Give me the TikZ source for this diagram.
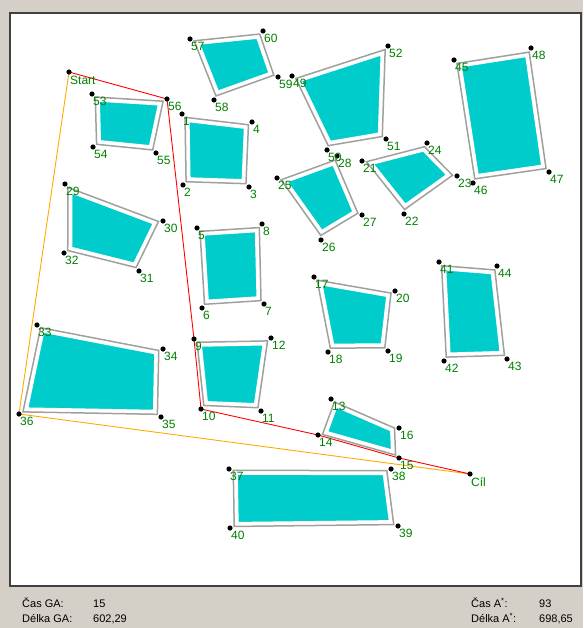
\documentclass[tikz,border=0pt]{standalone}
\usepackage{fontspec}
\setmainfont{Liberation Sans}
\usetikzlibrary{calc}
\definecolor{winbg}{RGB}{212,208,200}
\definecolor{obcyan}{RGB}{0,204,204}
\definecolor{obgray}{RGB}{160,160,160}
\definecolor{lblgreen}{RGB}{0,128,0}
\definecolor{pathorange}{RGB}{255,170,0}
\tikzset{
  lbl/.style={text=lblgreen, inner sep=0pt, anchor=north west, font=\fontsize{12}{12}\selectfont},
  info/.style={inner sep=0pt, anchor=base west, font=\fontsize{11}{12}\selectfont},
  dot/.style={fill=black},
  route/.style={red, line width=0.9pt},
  ga/.style={pathorange, line width=0.9pt}
}
% one obstacle: gray outline a bit inside the corner points, white gap, cyan core
\newcommand\obstacle[4]{%
  \path ($(#1)!0.5!(#3)$) coordinate (oc)
        ($(#1)!4.5pt!(oc)$) coordinate (o1)
        ($(#2)!4.5pt!(oc)$) coordinate (o2)
        ($(#3)!4.5pt!(oc)$) coordinate (o3)
        ($(#4)!4.5pt!(oc)$) coordinate (o4);
  \begin{scope}
    \clip (o1) -- (o2) -- (o3) -- (o4) -- cycle;
    \fill[obcyan] (o1) -- (o2) -- (o3) -- (o4) -- cycle;
    \draw[white, line width=9pt] (o1) -- (o2) -- (o3) -- (o4) -- cycle;
  \end{scope}
  \draw[obgray, line width=1.5pt] (o1) -- (o2) -- (o3) -- (o4) -- cycle;}
\begin{document}
\begin{tikzpicture}[x=1pt, y=-1pt]
  \fill[winbg] (0,0) rectangle (583,628);
  \useasboundingbox (0,0) rectangle (583,628);
  \draw[fill=white, draw=black!75, line width=1.5pt] (10,13) rectangle (581,586);

  \foreach \n/\x/\y in {1/182/114, 2/183/185, 3/249/187, 4/252/122,
      5/197/228, 6/202/308, 7/264/304, 8/262/224,
      9/194/339, 10/201/409, 11/261/411, 12/271/338,
      13/331/399, 14/318/435, 15/399/458, 16/399/428,
      17/314/277, 18/328/352, 19/388/351, 20/395/291,
      21/362/161, 22/404/214, 23/457/176, 24/427/143,
      25/277/178, 26/321/240, 27/362/215, 28/337/156,
      29/65/184, 30/163/221, 31/139/271, 32/64/253,
      33/37/325, 34/163/349, 35/161/417, 36/19/414,
      37/229/469, 38/391/469, 39/398/526, 40/230/528,
      41/439/262, 42/444/361, 43/507/359, 44/497/266,
      45/454/60, 46/473/183, 47/549/172, 48/531/48,
      49/292/76, 50/327/150, 51/386/139, 52/388/46,
      53/92/94, 54/93/147, 55/156/153, 56/167/99,
      57/190/39, 58/214/100, 59/278/77, 60/263/31}
    \coordinate (p\n) at (\x,\y);
  \coordinate (pStart) at (69,72);
  \coordinate (pGoal) at (470,474);

  \obstacle{p1}{p4}{p3}{p2}
  \obstacle{p5}{p8}{p7}{p6}
  \obstacle{p9}{p12}{p11}{p10}
  \obstacle{p13}{p16}{p15}{p14}
  \obstacle{p17}{p20}{p19}{p18}
  \obstacle{p21}{p24}{p23}{p22}
  \obstacle{p25}{p28}{p27}{p26}
  \obstacle{p29}{p30}{p31}{p32}
  \obstacle{p33}{p34}{p35}{p36}
  \obstacle{p37}{p38}{p39}{p40}
  \obstacle{p41}{p44}{p43}{p42}
  \obstacle{p45}{p48}{p47}{p46}
  \obstacle{p49}{p52}{p51}{p50}
  \obstacle{p53}{p56}{p55}{p54}
  \obstacle{p57}{p60}{p59}{p58}

  % paths
  \draw[ga] (pStart) -- (p36) -- (pGoal);
  \draw[route] (pStart) -- (p56) -- (p9) -- (p10) -- (p14) -- (p15) -- (pGoal);

  \foreach \n in {1,...,60,Start,Goal}
    \fill[dot] (p\n) circle (2.6pt);
  \foreach \n in {1,...,60}
    \node[lbl] (l\n) at ([xshift=1pt, yshift=-3pt]p\n) {\n};
  \node[lbl] (lStart) at ([xshift=1pt, yshift=-4pt]pStart) {Start};
  \node[lbl] (lGoal) at ([xshift=1pt, yshift=-3pt]pGoal) {Cíl};

  \node[info] (casGA) at (22,607) {Čas GA:};
  \node[info] (casGAval) at (93,607) {15};
  \node[info] (delkaGA) at (22,622) {Délka GA:};
  \node[info] (delkaGAval) at (93,622) {602,29};
  \node[info] (casA) at (471,607) {Čas A\textsuperscript{*}:};
  \node[info] (casAval) at (539,607) {93};
  \node[info] (delkaA) at (471,622) {Délka A\textsuperscript{*}:};
  \node[info] (delkaAval) at (539,622) {698,65};
\end{tikzpicture}
\end{document}
